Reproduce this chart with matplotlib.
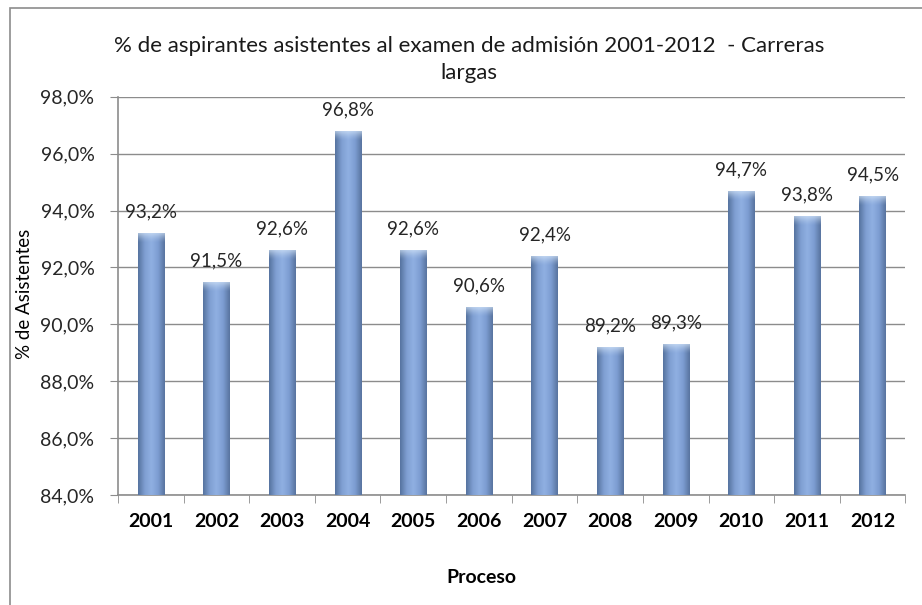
import numpy as np
import matplotlib
matplotlib.use("Agg")
import matplotlib.pyplot as plt
from matplotlib.patches import Rectangle
from matplotlib.colors import LinearSegmentedColormap
from matplotlib.ticker import FuncFormatter, FixedLocator

# Data
years = ['2001', '2002', '2003', '2004', '2005', '2006',
         '2007', '2008', '2009', '2010', '2011', '2012']
asistentes = [93.2, 91.5, 92.6, 96.8, 92.6, 90.6, 92.4, 89.2, 89.3, 94.7, 93.8, 94.5]

title = '% de aspirantes asistentes al examen de admisión 2001-2012  - Carreras\nlargas'

plt.rcParams['font.family'] = ['Lato', 'DejaVu Sans']

fig = plt.figure(figsize=(9.22, 6.05), dpi=100)
ax = fig.add_axes([0.128, 0.182, 0.854, 0.658])

# outer chart frame
fig.patches.append(Rectangle((0.011, -0.05), 1.1, 1.036, transform=fig.transFigure,
                             fill=False, edgecolor='#8c8c8c', linewidth=1.2))

x = np.arange(len(years))
bars = ax.bar(x, asistentes, width=0.4, color='#6a8cc4', zorder=3)

# cylinder-like shading for each bar
shade = LinearSegmentedColormap.from_list('shade', ['#56739f', '#7f9fd2', '#90b0e2', '#7d9dd2', '#58749f'])
grad = np.linspace(0, 1, 64).reshape(1, -1)
# light bevel at the top of each bar
cap = np.zeros((32, 1, 4))
cap[..., :3] = [0.85, 0.91, 0.98]
cap[:, 0, 3] = np.linspace(0.75, 0, 32) ** 1.5
for b in bars:
    x0, w, h = b.get_x(), b.get_width(), b.get_height()
    im = ax.imshow(grad, cmap=shade, aspect='auto', extent=(x0, x0 + w, 84, h),
                   zorder=4, interpolation='bicubic')
    im.set_clip_path(b)
    top = ax.imshow(cap, aspect='auto', extent=(x0, x0 + w, h - 0.35, h),
                    zorder=5, interpolation='bilinear')
    top.set_clip_path(b)

for xi, v in zip(x, asistentes):
    ax.annotate(f'{v:.1f}%'.replace('.', ','), (xi, v), xytext=(0, 9), textcoords='offset points',
                ha='center', va='bottom', fontsize=13.5, color='#262626', zorder=6)

ax.set_ylim(84, 98)
ax.set_xlim(-0.5, len(years) - 0.5)
ax.set_yticks(np.arange(84, 98.1, 2))
ax.yaxis.set_major_formatter(FuncFormatter(lambda v, p: f'{v:.1f}%'.replace('.', ',')))
ax.set_xticks(x)
ax.set_xticklabels(years, fontsize=14, fontweight='bold')
ax.xaxis.set_minor_locator(FixedLocator(np.arange(-0.5, len(years), 1)))
ax.tick_params(axis='x', which='major', length=0, pad=13)
ax.tick_params(axis='x', which='minor', length=6, color='#8c8c8c', direction='out')
ax.tick_params(axis='y', length=6, color='#8c8c8c', labelsize=14, pad=11, labelcolor='#262626')

ax.grid(axis='y', color='#8c8c8c', linewidth=1, zorder=0)
ax.set_axisbelow(True)
for s in ['top', 'right']:
    ax.spines[s].set_visible(False)
for s in ['left', 'bottom']:
    ax.spines[s].set_color('#8c8c8c')
    ax.spines[s].set_linewidth(1.2)

fig.text(0.509, 0.94, title, ha='center', va='top', fontsize=16, linespacing=1.4, color='#1a1a1a')
fig.text(0.027, 0.515, '% de Asistentes', rotation=90, ha='center', va='center', fontsize=13.5)
fig.text(0.522, 0.046, 'Proceso', ha='center', va='center', fontsize=14, fontweight='bold')

fig.savefig('out.png', dpi=100)
